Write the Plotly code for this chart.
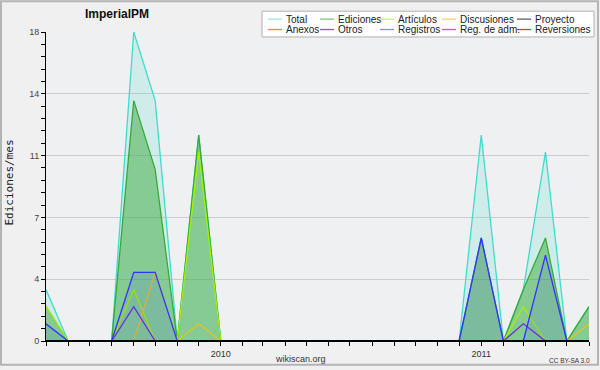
import plotly.graph_objects as go

# ---------------- data ----------------
months = ["2009-05-01", "2009-06-01", "2009-07-01", "2009-08-01", "2009-09-01", "2009-10-01",
          "2009-11-01", "2009-12-01", "2010-01-01", "2010-02-01", "2010-03-01", "2010-04-01",
          "2010-05-01", "2010-06-01", "2010-07-01", "2010-08-01", "2010-09-01", "2010-10-01",
          "2010-11-01", "2010-12-01", "2011-01-01", "2011-02-01", "2011-03-01", "2011-04-01",
          "2011-05-01", "2011-06-01"]

total       = [3, 0, 0, 0, 18, 14, 0, 12, 0, 0, 0, 0, 0, 0, 0, 0, 0, 0, 0, 0, 12, 0, 3, 11, 0, 2]
ediciones   = [2, 0, 0, 0, 14, 10, 0, 12, 0, 0, 0, 0, 0, 0, 0, 0, 0, 0, 0, 0, 6, 0, 3, 6, 0, 2]
articulos   = [2, 0, 0, 0, 3, 0, 0, 11, 0, 0, 0, 0, 0, 0, 0, 0, 0, 0, 0, 0, 0, 0, 2, 0, 0, 0]
discusiones = [0, 0, 0, 0, 0, 4, 0, 1, 0, 0, 0, 0, 0, 0, 0, 0, 0, 0, 0, 0, 0, 0, 0, 0, 0, 1]
proyecto    = [0] * 26
anexos      = [0] * 26
otros       = [0, 0, 0, 0, 2, 0, 0, 0, 0, 0, 0, 0, 0, 0, 0, 0, 0, 0, 0, 0, 0, 0, 1, 0, 0, 0]
registros   = [1, 0, 0, 0, 4, 4, 0, 0, 0, 0, 0, 0, 0, 0, 0, 0, 0, 0, 0, 0, 6, 0, 0, 5, 0, 0]
reg_adm     = [0] * 26
reversiones = [0] * 26

series_names = ["Total", "Ediciones", "Artículos", "Discusiones", "Proyecto",
                "Anexos", "Otros", "Registros", "Reg. de adm.", "Reversiones"]
series_values = [total, ediciones, articulos, discusiones, proyecto,
                 anexos, otros, registros, reg_adm, reversiones]

y_tickvals = [0, 3.6, 7.2, 10.8, 14.4, 18]
y_ticktext = ["0", "4", "7", "11", "14", "18"]

# ---------------- styles ----------------
line_colors = ["#40dccc", "#38aa38", "#aaee00", "#e8c020", "#555555",
               "#ee7733", "#7030d0", "#3333ff", "#cc33ee", "#dd2222"]
legend_colors = ["#a0e4e0", "#80c880", "#c8f080", "#f4d070", "#606060",
                 "#f08050", "#9050e0", "#8888ee", "#d050e8", "#e03838"]
fill_colors = {"Total": "rgba(64,224,208,0.18)",
               "Ediciones": "rgba(60,170,60,0.5)",
               "Registros": "rgba(51,51,255,0.1)"}

W, H = 600, 370
L, R, T, B = 46, 11, 32, 26
PW, PH = W - L - R, H - T - B


def px(x):
    return (x - L) / PW


def py(y):
    return (H - B - y) / PH


fig = go.Figure()
for name, vals, col in zip(series_names, series_values, line_colors):
    fc = fill_colors.get(name)
    fig.add_trace(go.Scatter(
        x=months, y=vals, name=name, mode="lines",
        line=dict(color=col, width=1.3),
        fill="tozeroy" if fc else None,
        fillcolor=fc,
        showlegend=False,
        hoverinfo="skip",
    ))

x_ticktext = [m[:4] if m[5:7] == "01" else "" for m in months]

fig.update_layout(
    width=W, height=H,
    margin=dict(l=L, r=R, t=T, b=B),
    paper_bgcolor="#f0f0f0",
    plot_bgcolor="#eef0f1",
    font=dict(family="Liberation Sans", size=9, color="#333"),
    xaxis=dict(
        type="date", range=[months[0], months[-1]],
        tickmode="array", tickvals=months, ticktext=x_ticktext,
        ticks="outside", ticklen=4, tickcolor="#000", tickwidth=1,
        showline=True, linecolor="#000", linewidth=1,
        showgrid=False, zeroline=False,
        tickfont=dict(family="Liberation Sans", size=9, color="#333"),
    ),
    yaxis=dict(
        range=[0, 18], tickmode="array", tickvals=y_tickvals, ticktext=y_ticktext,
        ticks="outside", ticklen=4, tickcolor="#000", tickwidth=1,
        showline=True, linecolor="#000", linewidth=1,
        showgrid=True, gridcolor="#cccccc", gridwidth=1, zeroline=False,
        tickfont=dict(family="Liberation Sans", size=9, color="#444"),
        minor=dict(tick0=0, dtick=0.72, ticks="outside", ticklen=4,
                   tickcolor="#000", showgrid=False),
    ),
)

annotations = [
    dict(text="<b>ImperialPM</b>", x=px(117), y=py(14), xref="paper", yref="paper",
         xanchor="center", yanchor="middle", showarrow=False,
         font=dict(family="Liberation Sans", size=12, color="#111")),
    dict(text="Ediciones/mes", x=px(10), y=py(184), xref="paper", yref="paper",
         xanchor="center", yanchor="middle", showarrow=False, textangle=-90,
         font=dict(family="DejaVu Sans Mono", size=11, color="#222")),
    dict(text="wikiscan.org", x=px(300), y=py(362), xref="paper", yref="paper",
         xanchor="center", yanchor="middle", showarrow=False,
         font=dict(family="Liberation Sans", size=9, color="#333")),
    dict(text="CC BY-SA 3.0", x=px(569), y=py(364), xref="paper", yref="paper",
         xanchor="center", yanchor="middle", showarrow=False,
         font=dict(family="Liberation Sans", size=6.5, color="#333")),
]

shapes = [
    # baseline drawn over zero-valued segments
    dict(type="line", xref="paper", yref="paper", x0=0, x1=1, y0=0, y1=0,
         line=dict(color="#000", width=2), layer="above"),
    # outer frame
    dict(type="rect", xref="paper", yref="paper", x0=px(1), x1=px(598), y0=py(1), y1=py(368),
         line=dict(color="#b4b4b4", width=2), fillcolor="rgba(0,0,0,0)", layer="above"),
    # legend box
    dict(type="rect", xref="paper", yref="paper", x0=px(262), x1=px(594), y0=py(11), y1=py(37),
         line=dict(color="#b0b0b0", width=1), fillcolor="#ffffff", layer="above"),
]

col_x = [268, 320, 380, 442, 517]
row_y = [19, 29.5]
for i, (name, lc) in enumerate(zip(series_names, legend_colors)):
    cx = col_x[i % 5]
    ry = row_y[i // 5]
    shapes.append(dict(type="line", xref="paper", yref="paper",
                       x0=px(cx), x1=px(cx + 14), y0=py(ry), y1=py(ry),
                       line=dict(color=lc, width=1.3), layer="above"))
    annotations.append(dict(text=name, x=px(cx + 16), y=py(ry), xref="paper", yref="paper",
                            xanchor="left", yanchor="middle", showarrow=False,
                            font=dict(family="Liberation Sans", size=10, color="#222")))

fig.update_layout(annotations=annotations, shapes=shapes)

fig.write_html("out.html")
